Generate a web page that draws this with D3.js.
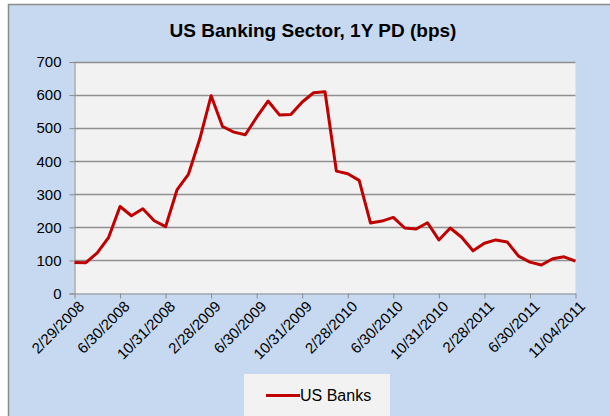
<!DOCTYPE html>
<html>
<head>
<meta charset="utf-8">
<script src="https://cdn.jsdelivr.net/npm/d3@7"></script>
<style>
  body { margin: 0; background: #fff; }
  text { font-family: "Liberation Sans", Arial, sans-serif; fill: #000; }
</style>
</head>
<body>
<div class="chart"></div>
<script>
var width = 610, height = 416;

// month-end observations, last one is 11/04/2011
var dates = [
  "2/29/2008", "3/31/2008", "4/30/2008", "5/31/2008", "6/30/2008", "7/31/2008", "8/31/2008", "9/30/2008",
  "10/31/2008", "11/30/2008", "12/31/2008",
  "1/31/2009", "2/28/2009", "3/31/2009", "4/30/2009", "5/31/2009", "6/30/2009", "7/31/2009", "8/31/2009",
  "9/30/2009", "10/31/2009", "11/30/2009", "12/31/2009",
  "1/31/2010", "2/28/2010", "3/31/2010", "4/30/2010", "5/31/2010", "6/30/2010", "7/31/2010", "8/31/2010",
  "9/30/2010", "10/31/2010", "11/30/2010", "12/31/2010",
  "1/31/2011", "2/28/2011", "3/31/2011", "4/30/2011", "5/31/2011", "6/30/2011", "7/31/2011", "8/31/2011",
  "9/30/2011", "11/04/2011"
];
var usBanks = [
  94, 93, 123, 170, 263, 235, 256, 220, 202, 313, 360,
  467, 598, 505, 488, 480, 533, 582, 540, 541, 579, 607, 610,
  370, 362, 342, 213, 219, 230, 198, 195, 214, 162, 198, 170,
  129, 152, 162, 156, 113, 95, 86, 105, 111, 98
];
var yTicks = [0, 100, 200, 300, 400, 500, 600, 700];
var seriesName = "US Banks";
var title = "US Banking Sector, 1Y PD (bps)";

var svg = d3.select(".chart").append("svg")
    .attr("width", width)
    .attr("height", height);

// chart frame
svg.append("rect")
    .attr("x", 8.5).attr("y", 4.5)
    .attr("width", 700).attr("height", 500)
    .attr("fill", "#c6d9f1")
    .attr("stroke", "#8c8c8c")
    .attr("stroke-width", 1.5);

var plot = { left: 74.5, right: 575.5, top: 62, bottom: 293.5 };

var x = d3.scalePoint()
    .domain(dates)
    .range([plot.left, plot.right]);

var y = d3.scaleLinear()
    .domain([0, 700])
    .range([plot.bottom, plot.top]);

svg.append("rect")
    .attr("x", plot.left).attr("y", plot.top)
    .attr("width", plot.right - plot.left)
    .attr("height", plot.bottom - plot.top)
    .attr("fill", "#f2f2f2");

// gridlines
svg.append("g")
    .selectAll("line")
    .data(yTicks.slice(1))
    .enter().append("line")
    .attr("x1", plot.left).attr("x2", plot.right)
    .attr("y1", d => Math.round(y(d)) + 0.5)
    .attr("y2", d => Math.round(y(d)) + 0.5)
    .attr("stroke", "#8f8f8f")
    .attr("stroke-width", 1.3);

// y axis
var yAxis = svg.append("g")
    .attr("transform", "translate(" + plot.left + ",0)")
    .call(d3.axisLeft(y).tickValues(yTicks).tickSize(5).tickPadding(8));
yAxis.selectAll("text").style("font-size", "15px").attr("fill", "#000");
yAxis.selectAll("line, path").attr("stroke", "#8c8c8c");

// x axis, label every 4th date
var xAxis = svg.append("g")
    .attr("transform", "translate(0," + plot.bottom + ")")
    .call(d3.axisBottom(x)
        .tickValues(dates.filter((d, i) => i % 4 === 0))
        .tickSize(5)
        .tickSizeOuter(0));
xAxis.selectAll("line, path").attr("stroke", "#8c8c8c");
xAxis.selectAll("text")
    .style("font-size", "15px")
    .attr("fill", "#000")
    .attr("text-anchor", "end")
    .attr("dy", "0.35em")
    .attr("transform", "translate(5,3) rotate(-45)")
    .attr("x", -4)
    .attr("y", 6);

// series line
var line = d3.line()
    .x((d, i) => x(dates[i]))
    .y(d => y(d));

svg.append("path")
    .datum(usBanks)
    .attr("d", line)
    .attr("fill", "none")
    .attr("stroke", "#c00000")
    .attr("stroke-width", 3)
    .attr("stroke-linejoin", "round");

// title
svg.append("text")
    .attr("x", 313)
    .attr("y", 37)
    .attr("text-anchor", "middle")
    .style("font-size", "19px")
    .style("font-weight", "bold")
    .text(title);

// legend
var legend = svg.append("g");
legend.append("rect")
    .attr("x", 244).attr("y", 374)
    .attr("width", 146).attr("height", 45)
    .attr("fill", "#f2f2f2");
legend.append("line")
    .attr("x1", 266).attr("x2", 300)
    .attr("y1", 395.5).attr("y2", 395.5)
    .attr("stroke", "#c00000")
    .attr("stroke-width", 3);
legend.append("text")
    .attr("x", 300)
    .attr("y", 401)
    .style("font-size", "16px")
    .text(seriesName);
</script>
</body>
</html>
